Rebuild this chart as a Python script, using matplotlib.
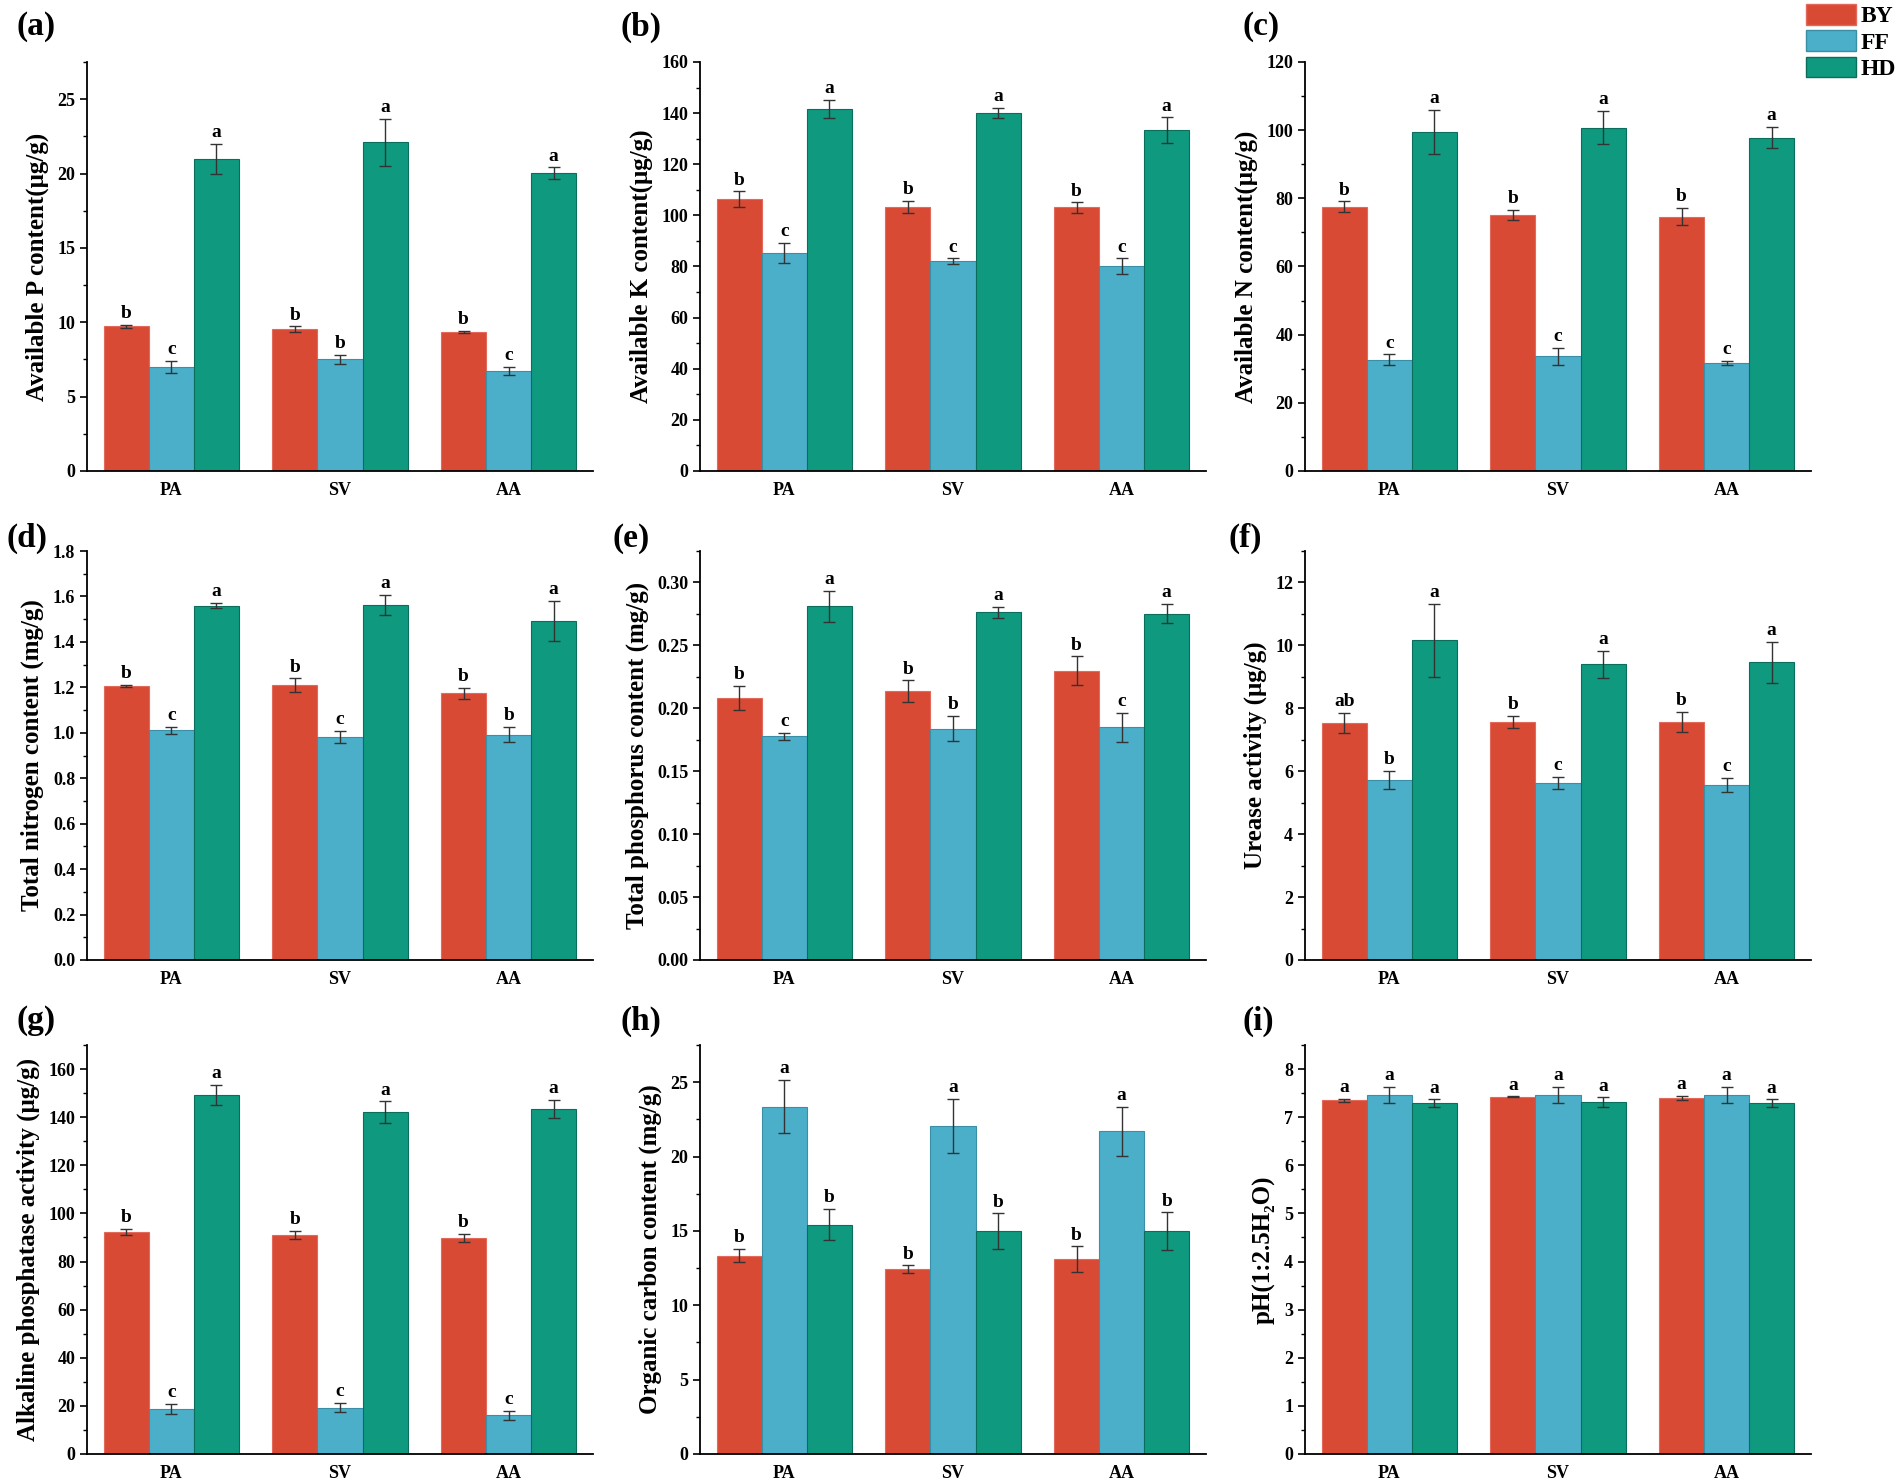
import numpy as np
import matplotlib
matplotlib.use('Agg')
import matplotlib.pyplot as plt
from matplotlib.patches import Patch
from matplotlib.ticker import MultipleLocator, FormatStrFormatter

plt.rcParams['font.family'] = ['Liberation Serif', 'DejaVu Serif']
plt.rcParams['font.weight'] = 'bold'

sites = ['PA', 'SV', 'AA']
groups = ['BY', 'FF', 'HD']
colors = ['#D94A35', '#4BAFC9', '#0F9A80']
edges = ['#E36A5A', '#3A8FA6', '#0B6E5C']

# panel data: means, errors and letters per group (BY, FF, HD) for PA, SV, AA
avail_p = [[9.72, 9.54, 9.34], [6.98, 7.52, 6.73], [20.98, 22.1, 20.02]]
avail_p_err = [[0.13, 0.18, 0.09], [0.4, 0.31, 0.29], [1.0, 1.6, 0.4]]
avail_p_let = [['b', 'b', 'b'], ['c', 'b', 'c'], ['a', 'a', 'a']]

avail_k = [[106.3, 103.3, 103.1], [85.2, 82.0, 80.1], [141.6, 140.0, 133.4]]
avail_k_err = [[3.1, 2.5, 2.0], [4.0, 1.2, 3.1], [3.5, 2.0, 4.9]]
avail_k_let = [['b', 'b', 'b'], ['c', 'c', 'c'], ['a', 'a', 'a']]

avail_n = [[77.6, 75.0, 74.6], [32.7, 33.6, 31.8], [99.5, 100.7, 97.8]]
avail_n_err = [[1.5, 1.5, 2.5], [1.5, 2.5, 0.6], [6.4, 4.9, 3.1]]
avail_n_let = [['b', 'b', 'b'], ['c', 'c', 'c'], ['a', 'a', 'a']]

total_n = [[1.205, 1.209, 1.174], [1.011, 0.981, 0.992], [1.559, 1.562, 1.493]]
total_n_err = [[0.005, 0.03, 0.025], [0.016, 0.028, 0.034], [0.012, 0.044, 0.088]]
total_n_let = [['b', 'b', 'b'], ['c', 'c', 'b'], ['a', 'a', 'a']]

total_p = [[0.2082, 0.2136, 0.2298], [0.1779, 0.1838, 0.1848], [0.2811, 0.2763, 0.2753]]
total_p_err = [[0.0099, 0.0085, 0.0114], [0.0027, 0.0101, 0.0117], [0.0123, 0.0043, 0.0074]]
total_p_let = [['b', 'b', 'b'], ['c', 'b', 'c'], ['a', 'a', 'a']]

urease = [[7.53, 7.56, 7.56], [5.71, 5.63, 5.57], [10.16, 9.40, 9.47]]
urease_err = [[0.33, 0.19, 0.32], [0.29, 0.19, 0.23], [1.16, 0.43, 0.65]]
urease_let = [['ab', 'b', 'b'], ['b', 'c', 'c'], ['a', 'a', 'a']]

alp = [[92.3, 91.0, 89.8], [18.6, 19.3, 16.1], [149.2, 142.0, 143.4]]
alp_err = [[1.25, 1.6, 1.8], [2.1, 1.8, 1.9], [4.2, 4.6, 3.9]]
alp_let = [['b', 'b', 'b'], ['c', 'c', 'c'], ['a', 'a', 'a']]

org_c = [[13.33, 12.41, 13.11], [23.36, 22.08, 21.7], [15.42, 14.97, 14.97]]
org_c_err = [[0.45, 0.27, 0.85], [1.78, 1.82, 1.64], [1.06, 1.21, 1.28]]
org_c_let = [['b', 'b', 'b'], ['a', 'a', 'a'], ['b', 'b', 'b']]

ph = [[7.35, 7.42, 7.40], [7.46, 7.46, 7.46], [7.29, 7.31, 7.29]]
ph_err = [[0.03, 0.01, 0.05], [0.17, 0.17, 0.17], [0.08, 0.1, 0.08]]
ph_let = [['a', 'a', 'a'], ['a', 'a', 'a'], ['a', 'a', 'a']]

panels = [
    ('(a)', 'Available P content(μg/g)', avail_p, avail_p_err, avail_p_let, 27.5, 5, 2.5, '%g'),
    ('(b)', 'Available K content(μg/g)', avail_k, avail_k_err, avail_k_let, 160, 20, 10, '%g'),
    ('(c)', 'Available N content(μg/g)', avail_n, avail_n_err, avail_n_let, 120, 20, 10, '%g'),
    ('(d)', 'Total nitrogen content (mg/g)', total_n, total_n_err, total_n_let, 1.8, 0.2, 0.1, '%.1f'),
    ('(e)', 'Total phosphorus content (mg/g)', total_p, total_p_err, total_p_let, 0.325, 0.05, 0.025, '%.2f'),
    ('(f)', 'Urease activity (μg/g)', urease, urease_err, urease_let, 13, 2, 1, '%g'),
    ('(g)', 'Alkaline phosphatase activity (μg/g)', alp, alp_err, alp_let, 170, 20, 10, '%g'),
    ('(h)', 'Organic carbon content (mg/g)', org_c, org_c_err, org_c_let, 27.5, 5, 2.5, '%g'),
    ('(i)', 'pH(1:2.5H₂O)', ph, ph_err, ph_let, 8.5, 1, 0.5, '%g'),
]

W, H = 1902, 1482
fig = plt.figure(figsize=(W / 100, H / 100), dpi=100)

col_left = [87, 700, 1305]
row_top = [62, 551, 1045]
ax_w, ax_h = 506, 409
label_x = [[17, 620, 1242], [6, 612, 1228], [17, 620, 1242]]
label_y = [27, 538, 1021]

x = np.arange(len(sites))
bw = 0.267

for k, (tag, ylab, vals, errs, lets, ytop, major, minor, fmt) in enumerate(panels):
    r, c = divmod(k, 3)
    ax = fig.add_axes([col_left[c] / W, 1 - (row_top[r] + ax_h) / H, ax_w / W, ax_h / H])
    for g in range(3):
        pos = x + (g - 1) * bw
        ax.bar(pos, vals[g], bw, color=colors[g], edgecolor=edges[g], linewidth=0.8, zorder=2)
        ax.errorbar(pos, vals[g], yerr=errs[g], fmt='none', ecolor='#333333',
                    elinewidth=1, capsize=4, capthick=1, zorder=3)
        for i in range(3):
            ax.annotate(lets[g][i], (pos[i], vals[g][i] + errs[g][i]), xytext=(0, 2),
                        textcoords='offset points', ha='center', va='bottom',
                        fontsize=14, fontweight='bold')
    ax.set_xlim(-0.5, 2.5)
    ax.set_ylim(0, ytop)
    ax.set_xticks(x)
    ax.set_xticklabels(sites)
    ax.yaxis.set_major_locator(MultipleLocator(major))
    ax.yaxis.set_minor_locator(MultipleLocator(minor))
    ax.yaxis.set_major_formatter(FormatStrFormatter(fmt))
    ax.tick_params(axis='x', length=0, pad=8, labelsize=13)
    ax.tick_params(axis='y', which='major', direction='out', length=5, width=1.2, labelsize=13)
    ax.tick_params(axis='y', which='minor', direction='out', length=3, width=1.0)
    for lab in ax.get_xticklabels() + ax.get_yticklabels():
        lab.set_fontweight('bold')
    ax.spines['top'].set_visible(False)
    ax.spines['right'].set_visible(False)
    ax.spines['left'].set_linewidth(1.3)
    ax.spines['bottom'].set_linewidth(1.3)
    ax.set_ylabel(ylab, fontsize=18, fontweight='bold', labelpad=6)
    fig.text(label_x[r][c] / W, 1 - label_y[r] / H, tag, fontsize=24, fontweight='bold',
             ha='left', va='center')

handles = [Patch(facecolor=colors[g], edgecolor=edges[g], linewidth=1.0, label=groups[g]) for g in range(3)]
fig.legend(handles=handles, loc='upper left', bbox_to_anchor=(1806 / W, 1 - 4 / H),
           frameon=False, handlelength=2.1, handleheight=0.97,
           handletextpad=0.2, labelspacing=0.12, borderpad=0, borderaxespad=0,
           prop={'weight': 'bold', 'size': 17})

fig.savefig('out.png', dpi=100)
